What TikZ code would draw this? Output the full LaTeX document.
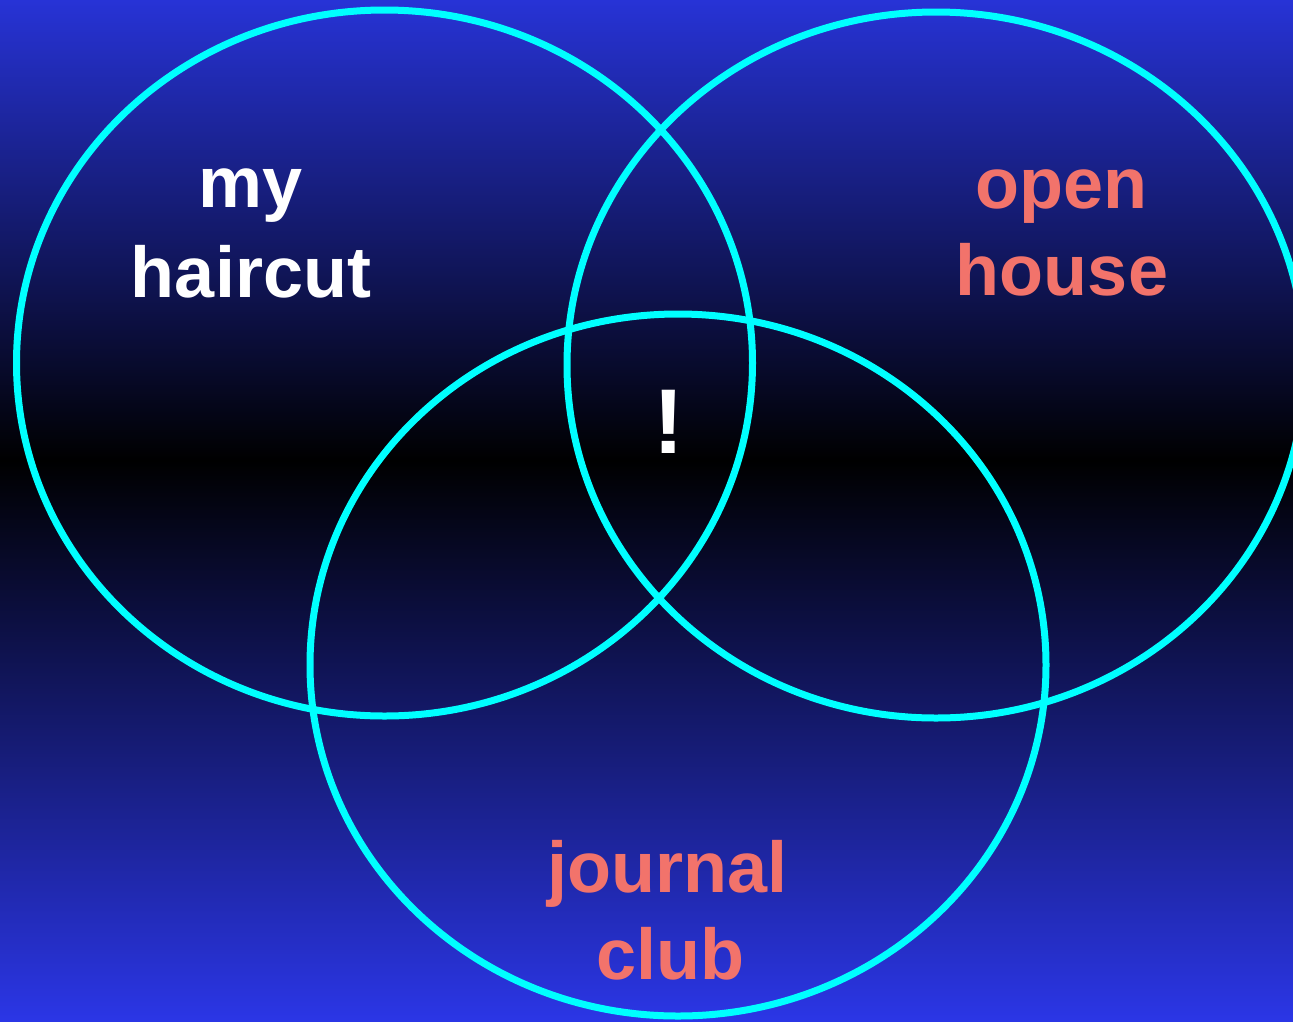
\documentclass[tikz,border=0pt]{standalone}
\usepackage{fontspec}
\newfontfamily\labfont{Liberation Sans}
\definecolor{bgtop}{RGB}{39,51,214}
\definecolor{bgbot}{RGB}{43,54,230}
\definecolor{ringc}{RGB}{0,255,255}
\definecolor{salmon}{RGB}{242,115,107}
\begin{document}
\begin{tikzpicture}[x=1pt,y=-1pt,
  ring/.style={draw=ringc,line width=7pt},
  lab/.style={font=\labfont\bfseries\fontsize{72}{88}\selectfont, anchor=base, inner sep=0pt},
  bang/.style={font=\labfont\bfseries\fontsize{92}{100}\selectfont, anchor=base, inner sep=0pt}
]
\useasboundingbox (0,0) rectangle (1293,1021);
\clip (0,0) rectangle (1293,1021);
\shade[top color=bgtop,bottom color=black] (0,0) rectangle (1293,461);
\shade[top color=black,bottom color=bgbot] (0,460) rectangle (1293,1021);
\draw[ring] (384.5,363) ellipse [x radius=368pt,y radius=353pt];
\draw[ring] (936,365) ellipse [x radius=369pt,y radius=353pt];
\draw[ring] (678,665) ellipse [x radius=368pt,y radius=351pt];
\node[lab,text=white] (my) at (251,207) {my};
\node[lab,text=white] (haircut) at (251,297) {haircut};
\node[lab,text=salmon] (open) at (1061,208) {open};
\node[lab,text=salmon] (house) at (1062,295) {house};
\node[lab,text=salmon] (journal) at (667,892) {journal};
\node[lab,text=salmon] (club) at (670,979) {club};
\node[bang,text=white] (excl) at (669,453) {!};
\end{tikzpicture}
\end{document}
